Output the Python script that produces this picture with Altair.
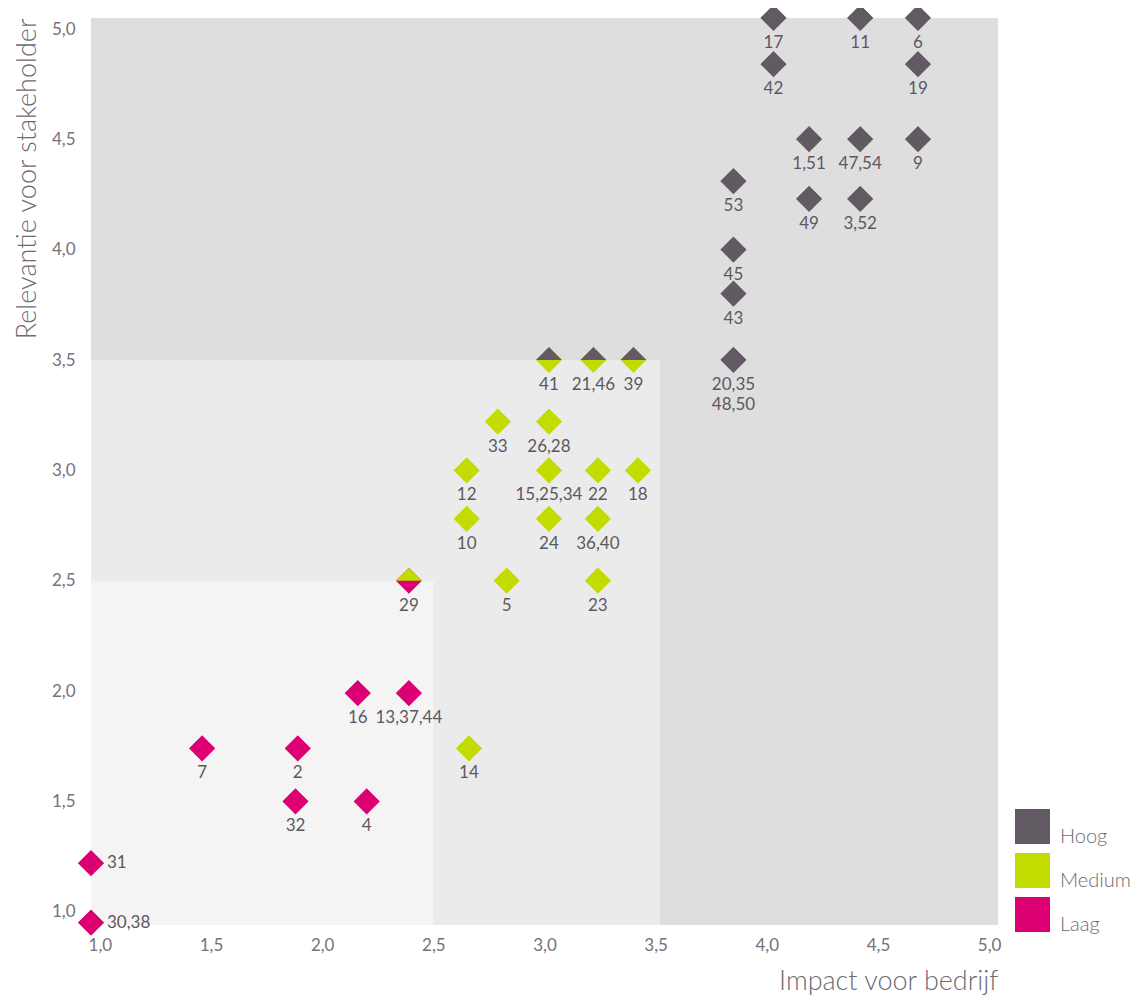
import altair as alt
import pandas as pd

# ---------------- data ----------------
levels = ["Hoog", "Medium", "Laag"]
level_colors = ["#615a62", "#c2db00", "#dc0073"]

labels = ["17", "11", "6", "42", "19", "1,51", "47,54", "9", "49", "3,52",
          "53", "45", "43", "20,35\n48,50",
          "41", "21,46", "39",
          "33", "26,28", "12", "15,25,34", "22", "18", "10", "24", "36,40",
          "5", "23", "14",
          "29",
          "16", "13,37,44", "7", "2", "32", "4", "31", "30,38"]
impact = [4.03, 4.42, 4.68, 4.03, 4.68, 4.19, 4.42, 4.68, 4.19, 4.42,
          3.85, 3.85, 3.85, 3.85,
          3.02, 3.22, 3.40,
          2.79, 3.02, 2.65, 3.02, 3.24, 3.42, 2.65, 3.02, 3.24,
          2.83, 3.24, 2.66,
          2.39,
          2.16, 2.39, 1.46, 1.89, 1.88, 2.20, 0.96, 0.96]
relevance = [5.05, 5.05, 5.05, 4.84, 4.84, 4.50, 4.50, 4.50, 4.23, 4.23,
             4.31, 4.00, 3.80, 3.50,
             3.50, 3.50, 3.50,
             3.22, 3.22, 3.00, 3.00, 3.00, 3.00, 2.78, 2.78, 2.78,
             2.50, 2.50, 1.74,
             2.50,
             1.99, 1.99, 1.74, 1.74, 1.50, 1.50, 1.22, 0.95]
top_level = ["Hoog"] * 17 + ["Medium"] * 13 + ["Laag"] * 8
bottom_level = ["Hoog"] * 14 + ["Medium"] * 15 + ["Laag"] * 9
label_side = ["below"] * 36 + ["right"] * 2

x_domain = [0.96, 5.04]
y_domain = [0.94, 5.05]
tick_values = [1.0, 1.5, 2.0, 2.5, 3.0, 3.5, 4.0, 4.5, 5.0]

# shaded zones (outer zone = plot background)
zone_x_end = [3.52, 2.5]
zone_y_end = [3.5, 2.5]
zone_fill = ["#ebebeb", "#f4f4f4"]

points = pd.DataFrame({
    "label": labels, "impact": impact, "relevance": relevance,
    "top": top_level, "bottom": bottom_level, "side": label_side,
})
zones = pd.DataFrame({
    "x1": [x_domain[0]] * len(zone_x_end), "x2": zone_x_end,
    "y1": [y_domain[0]] * len(zone_y_end), "y2": zone_y_end,
    "fill": zone_fill,
})

# ---------------- styling ----------------
FONT = "Lato"
AXIS_COLOR = "#6e6a6f"
TEXT_COLOR = "#5d5860"
label_expr = "replace(format(datum.value, '.1f'), '.', ',')"

xscale = alt.Scale(domain=x_domain, nice=False, zero=False)
yscale = alt.Scale(domain=y_domain, nice=False, zero=False)
cscale = alt.Scale(domain=levels, range=level_colors)

xaxis = alt.Axis(values=tick_values, labelExpr=label_expr, grid=False, ticks=False,
                 tickSize=0, domain=False, labelPadding=12, labelFlush=False,
                 labelFont=FONT, labelFontSize=17, labelFontWeight=400,
                 labelColor="#76717a",
                 title="Impact voor bedrijf", titleFont=FONT, titleFontSize=27,
                 titleFontWeight=300, titleColor=AXIS_COLOR, titleX=907, titleY=64,
                 titleAlign="right", titleBaseline="alphabetic")
yaxis = alt.Axis(values=tick_values, labelExpr=label_expr, grid=False, ticks=False,
                 tickSize=0, domain=False, labelPadding=16, labelFlush=False,
                 labelFont=FONT, labelFontSize=17, labelFontWeight=400,
                 labelColor="#76717a",
                 title="Relevantie voor stakeholder", titleFont=FONT, titleFontSize=27,
                 titleFontWeight=300, titleColor=AXIS_COLOR, titleAngle=270,
                 titleX=-64, titleY=0, titleAlign="right", titleBaseline="middle")


def X(field):
    return alt.X(field, type="quantitative", scale=xscale, axis=xaxis)


def Y(field):
    return alt.Y(field, type="quantitative", scale=yscale, axis=yaxis)


legend = alt.Legend(title=None, orient="none", legendX=924, legendY=791,
                    symbolType="square", symbolSize=1225, symbolStrokeWidth=0,
                    symbolOpacity=1, labelFont=FONT, labelFontSize=20,
                    labelFontWeight=300, labelColor=AXIS_COLOR, labelOffset=10,
                    rowPadding=6, labelBaseline="top", padding=0, offset=0,
                    labelLimit=200)

zone_layer = alt.Chart(zones).mark_rect().encode(
    x=X("x1"), x2="x2", y=Y("y1"), y2="y2",
    fill=alt.Fill("fill:N", scale=None),
)

base = alt.Chart(points)

full_diamonds = base.mark_point(shape="diamond", filled=True, size=676, opacity=1,
                                strokeWidth=0).encode(
    x=X("impact"), y=Y("relevance"),
    color=alt.Color("bottom:N", scale=cscale, legend=legend),
)

top_halves = base.mark_point(shape="M-1,0L0,-1L1,0Z", filled=True, size=676,
                             opacity=1, strokeWidth=0).encode(
    x=X("impact"), y=Y("relevance"),
    color=alt.Color("top:N", scale=cscale, legend=legend),
)

below_labels = base.transform_filter("datum.side == 'below'").mark_text(
    baseline="alphabetic", dy=30, font=FONT, fontSize=17, color=TEXT_COLOR,
    lineBreak="\n", lineHeight=20,
).encode(x=X("impact"), y=Y("relevance"), text="label:N")

right_labels = base.transform_filter("datum.side == 'right'").mark_text(
    align="left", baseline="middle", dx=16, font=FONT, fontSize=17, color=TEXT_COLOR,
).encode(x=X("impact"), y=Y("relevance"), text="label:N")

chart = alt.layer(zone_layer, full_diamonds, top_halves, below_labels, right_labels).properties(
    width=907, height=907,
    autosize=alt.AutoSizeParams(type="none"),
    padding={"left": 83, "top": 10, "right": 134, "bottom": 75},
    background="white",
).configure_view(fill="#dedede", strokeWidth=0)

chart.save("out.html", embed_options={"renderer": "svg", "actions": False})
